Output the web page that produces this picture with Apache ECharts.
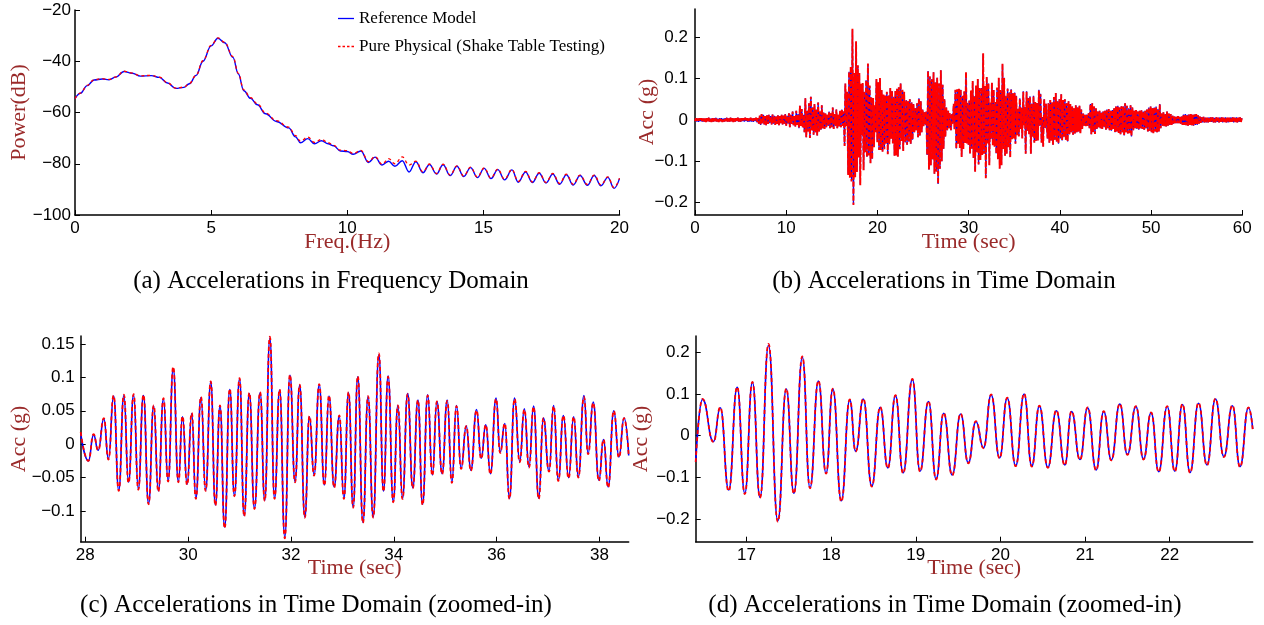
<!DOCTYPE html>
<html><head><meta charset="utf-8">
<script src="https://cdn.jsdelivr.net/npm/echarts@6/dist/echarts.min.js"></script>
<style>html,body{margin:0;padding:0;background:#fff}#c{width:1264px;height:625px}</style>
</head><body><div id="c"></div>
<script>
// ---------- (a) Frequency domain (Power, dB) ----------
const aFreq = [0,0.2,0.45,0.7,1.0,1.25,1.5,1.8,2.1,2.4,2.8,3.1,3.4,3.7,4.0,4.2,4.45,4.7,5.0,5.25,5.5,5.8,6.0,6.2,6.45,6.7,7.0,7.4,7.85,8.1,8.28,8.55,8.8,9.05,9.3,9.5,9.75,10.0,10.22,10.5,10.78,11.02,11.28,11.52,11.75,12.02,12.27,12.52,12.78,13.02,13.28,13.52,13.78,14.03,14.28,14.53,14.78,15.03,15.28,15.53,15.78,16.05,16.28,16.55,16.8,17.05,17.3,17.55,17.8,18.05,18.3,18.55,18.82,19.07,19.32,19.57,19.8,20.0];
const aRef = [-54.6,-52.5,-49.5,-47.3,-46.9,-47.2,-46.2,-44.0,-44.7,-45.8,-45.6,-46.3,-48.5,-50.6,-50.2,-48.8,-45.5,-40.0,-34.0,-31.0,-32.8,-38.5,-45.0,-51.5,-54.5,-57.0,-60.5,-63.5,-66.0,-69.5,-71.8,-70.2,-72.2,-71.0,-72.2,-73.0,-75.0,-75.2,-76.3,-75.0,-79.5,-77.4,-80.5,-79.0,-81.0,-78.8,-83.2,-79.2,-83.5,-80.3,-84.0,-80.4,-84.6,-81.0,-85.0,-81.5,-85.4,-81.8,-85.8,-82.3,-86.3,-82.4,-87.2,-83.2,-87.3,-83.7,-87.5,-84.0,-88.0,-84.3,-88.3,-84.6,-88.4,-84.6,-88.6,-85.3,-89.6,-85.8];
const aPhys = [-54.6,-52.4,-49.4,-47.2,-46.8,-47.1,-46.1,-43.9,-44.6,-45.7,-45.5,-46.2,-48.4,-50.5,-50.1,-48.7,-45.4,-39.8,-33.8,-30.9,-32.6,-38.2,-44.7,-51.2,-54.2,-56.6,-60.2,-63.2,-65.7,-69.0,-71.2,-69.6,-71.7,-70.5,-71.8,-72.8,-74.7,-74.9,-76.0,-74.8,-79.2,-77.2,-80.2,-78.0,-80.0,-77.3,-80.5,-79.0,-83.2,-80.1,-83.8,-80.2,-84.4,-80.8,-84.8,-81.3,-85.2,-81.6,-85.6,-82.1,-86.0,-82.2,-86.9,-83.0,-87.1,-83.5,-87.3,-83.8,-87.7,-84.1,-88.0,-84.4,-88.1,-84.4,-88.3,-85.1,-89.3,-85.6];

// ---------- (c) zoomed-in 27.9-38.6 s (peaks / troughs, g) ----------
const cTime = [27.91,28.06,28.16,28.25,28.36,28.45,28.55,28.65,28.75,28.84,28.94,29.03,29.13,29.23,29.33,29.42,29.52,29.61,29.71,29.81,29.89,29.98,30.07,30.15,30.25,30.34,30.44,30.53,30.62,30.71,30.81,30.90,31.00,31.09,31.19,31.29,31.40,31.49,31.59,31.68,31.78,31.88,31.98,32.08,32.17,32.27,32.36,32.45,32.55,32.65,32.74,32.84,32.94,33.03,33.12,33.21,33.30,33.40,33.50,33.60,33.71,33.80,33.89,33.99,34.08,34.17,34.27,34.37,34.47,34.56,34.66,34.75,34.84,34.94,35.04,35.13,35.22,35.31,35.41,35.50,35.61,35.70,35.79,35.88,35.99,36.07,36.16,36.25,36.35,36.45,36.54,36.63,36.72,36.82,36.91,37.02,37.11,37.20,37.30,37.40,37.50,37.59,37.70,37.78,37.88,37.99,38.08,38.17,38.28,38.38,38.48,38.57];
const cRef = [0.016,-0.025,0.014,-0.009,0.038,-0.022,0.072,-0.069,0.073,-0.057,
0.074,-0.067,0.073,-0.089,0.057,-0.070,0.068,-0.055,0.113,-0.056,
0.041,-0.060,0.046,-0.081,0.070,-0.069,0.093,-0.091,0.057,-0.124,
0.082,-0.077,0.098,-0.107,0.076,-0.096,0.077,-0.084,0.159,-0.081,
0.081,-0.139,0.103,-0.056,0.088,-0.109,0.041,-0.046,0.089,-0.061,
0.072,-0.064,0.042,-0.081,0.077,-0.094,0.101,-0.117,0.071,-0.109,
0.134,-0.070,0.102,-0.086,0.058,-0.081,0.076,-0.065,0.066,-0.090,
0.074,-0.046,0.064,-0.044,0.066,-0.057,0.058,-0.036,0.027,-0.039,
0.052,-0.021,0.029,-0.044,0.069,-0.012,0.031,-0.081,0.069,-0.026,
0.053,-0.034,0.057,-0.081,0.039,-0.040,0.058,-0.054,0.043,-0.050,
0.041,-0.049,0.073,-0.014,0.063,-0.054,0.007,-0.064,0.050,-0.019,
0.039,-0.017];
const cPhys = [0.018,-0.025,0.015,-0.009,0.039,-0.023,0.073,-0.070,0.074,-0.058,
0.075,-0.068,0.074,-0.090,0.058,-0.071,0.069,-0.056,0.116,-0.057,
0.042,-0.061,0.047,-0.082,0.071,-0.070,0.094,-0.092,0.058,-0.126,
0.083,-0.078,0.099,-0.108,0.077,-0.097,0.078,-0.085,0.161,-0.082,
0.082,-0.141,0.104,-0.057,0.089,-0.110,0.042,-0.047,0.090,-0.062,
0.073,-0.065,0.043,-0.082,0.078,-0.095,0.102,-0.118,0.072,-0.110,
0.136,-0.071,0.101,-0.087,0.058,-0.082,0.075,-0.066,0.066,-0.091,
0.073,-0.047,0.064,-0.045,0.065,-0.058,0.057,-0.037,0.027,-0.040,
0.051,-0.022,0.029,-0.045,0.068,-0.013,0.031,-0.082,0.068,-0.027,
0.052,-0.035,0.056,-0.082,0.039,-0.041,0.057,-0.055,0.043,-0.051,
0.041,-0.050,0.071,-0.015,0.062,-0.055,0.007,-0.065,0.050,-0.020,
0.039,-0.017];

// ---------- (d) zoomed-in 16.4-23.0 s (peaks / troughs, g) ----------
const dTime = [16.40,16.48,16.61,16.69,16.79,16.89,16.98,17.07,17.16,17.26,
17.37,17.47,17.56,17.66,17.75,17.85,17.94,18.02,18.12,18.22,
18.29,18.38,18.48,18.58,18.67,18.76,18.85,18.96,19.05,19.15,
19.24,19.33,19.43,19.53,19.62,19.71,19.80,19.89,19.99,20.08,
20.18,20.28,20.37,20.46,20.56,20.66,20.76,20.84,20.94,21.03,
21.13,21.22,21.31,21.41,21.50,21.60,21.69,21.78,21.87,21.97,
22.06,22.15,22.24,22.34,22.44,22.54,22.64,22.74,22.83,22.93,22.98];
const dRef = [-0.062,0.087,-0.014,0.067,-0.130,0.116,-0.138,0.128,-0.148,0.217,
-0.204,0.112,-0.138,0.188,-0.125,0.131,-0.090,0.112,-0.156,0.086,
-0.037,0.088,-0.121,0.068,-0.077,0.096,-0.089,0.135,-0.085,0.082,
-0.104,0.054,-0.094,0.052,-0.065,0.034,-0.029,0.098,-0.053,0.090,
-0.072,0.100,-0.073,0.071,-0.076,0.060,-0.070,0.058,-0.057,0.067,
-0.082,0.058,-0.058,0.076,-0.045,0.070,-0.056,0.055,-0.086,0.070,
-0.085,0.075,-0.088,0.078,-0.070,0.088,-0.050,0.072,-0.074,0.067,0.016];
const dPhys = [-0.063,0.088,-0.015,0.068,-0.133,0.117,-0.140,0.129,-0.149,0.220,
-0.206,0.113,-0.139,0.190,-0.126,0.132,-0.091,0.113,-0.158,0.087,
-0.038,0.089,-0.122,0.069,-0.078,0.097,-0.090,0.136,-0.086,0.083,
-0.105,0.055,-0.095,0.053,-0.066,0.035,-0.030,0.099,-0.054,0.091,
-0.073,0.101,-0.074,0.072,-0.077,0.061,-0.071,0.059,-0.058,0.068,
-0.083,0.059,-0.059,0.077,-0.046,0.071,-0.057,0.056,-0.087,0.071,
-0.086,0.076,-0.089,0.079,-0.071,0.089,-0.051,0.073,-0.075,0.068,0.016];

// ---------- (b) full record: remaining stretches sampled every 0.1 s (milli-g) ----------
const SAMPLE_STEP = 0.1;
const bStartA = 0.0;   // 0.0 .. 16.3 s
const bQuietA_mg = [
-3,4,-4,3,-5,4,-3,4,-4,3,  -4,3,-5,4,-3,5,-4,3,-5,4,
-4,4,-3,5,-4,3,-5,4,-3,4,  -5,3,-4,4,-3,5,-4,3,-4,5,
-3,4,-5,3,-4,4,-3,5,-4,3,  -5,4,-3,4,-4,5,-3,4,-5,3,
-4,5,-4,3,-5,4,-3,5,-6,4,  -9,10,-12,14,-8,12,-11,9,-13,11,
-10,12,-8,9,-11,13,-9,10,-12,8,  -10,11,-13,9,-8,12,-11,10,-9,14,
-14,10,-9,16,-18,12,-10,20,-13,9,  -16,22,-12,14,-20,34,-15,26,-18,12,
-30,52,-42,22,-28,40,-44,56,-25,30,  -36,38,-30,25,-38,42,-28,20,-24,35,
-20,18,-22,15,-18,12,-15,20,-20,16,  -18,30,-22,14,-15,25,-20,12,-16,22,
-18,25,-15,20];
const bStartB = 23.05; // 23.05 .. 27.85 s
const bMidB_mg = [
-55,48,-60,45,-52,50,-58,42,-48,38,
-30,28,-25,40,-42,52,-38,45,-30,25,
-15,18,-12,20,-85,118,-120,105,-110,98,
-95,115,-130,90,-125,102,-155,88,-118,120,
-100,85,-70,50,-40,30,-25,22,-20];
const bStartC = 38.65; // 38.65 .. 59.95 s
const bTailC_mg = [
-45,40,-55,48,
-50,42,-60,55,-48,65,-52,45,-58,50,
-45,62,-50,48,-42,50,-48,40,-52,45,
-35,38,-30,32,-36,28,-33,35,-30,30,
-28,34,-32,25,-22,15,-14,12,-15,13,
-14,16,-20,38,-35,40,-30,32,-34,28,
-22,20,-18,22,-20,18,-22,20,-18,22,
-24,25,-20,26,-25,22,-26,24,-22,28,
-30,32,-28,34,-32,30,-35,33,-30,32,
-38,40,-30,34,-33,28,-32,35,-40,30,
-25,22,-20,24,-22,20,-24,22,-20,23,
-22,20,-24,22,-20,25,-28,30,-26,32,
-30,28,-32,30,-28,32,-30,26,-28,38,
-20,15,-14,18,-15,14,-16,20,-14,15,
-12,14,-12,10,-9,8,-8,7,-8,9,
-8,7,-9,8,-12,13,-12,14,-13,12,
-14,13,-12,14,-13,12,-14,13,-12,14,
-12,11,-9,8,-7,6,-6,7,-6,5,
-6,5,-6,6,-5,6,-5,6,-6,5,
-6,6,-5,5,-6,6,-5,6,-6,5,
-5,6,-6,5,-6,5,-5,6,-5,6,
-6,5,-5,6,-6,5,-5,6,-5,4];

// ---------- text ----------
const legendNames = ['Reference Model','Pure Physical (Shake Table Testing)'];
const captions = ['(a) Accelerations in Frequency Domain','(b) Accelerations in Time Domain',
  '(c) Accelerations in Time Domain (zoomed-in)','(d) Accelerations in Time Domain (zoomed-in)'];
const yTicksB = [-0.2,-0.1,0,0.1,0.2];
const yTicksC = [-0.1,-0.05,0,0.05,0.1,0.15];
const xTicksC = [28,30,32,34,36,38];
const yTicksD = [-0.2,-0.1,0,0.1,0.2];
const xTicksD = [17,18,19,20,21,22];

// ---------- build ----------
const BLUE = '#0000FF', RED = '#FF0000';
const pairs = (xs, ys) => xs.map((x, i) => [x, ys[i]]);
const seg = (start, mg) => mg.map((v, i) => [+(start + i * SAMPLE_STEP).toFixed(2), v / 1000]);
const bRefPts = [].concat(seg(bStartA, bQuietA_mg), pairs(dTime, dRef), seg(bStartB, bMidB_mg), pairs(cTime, cRef), seg(bStartC, bTailC_mg));
const bPhysPts = [].concat(seg(bStartA, bQuietA_mg), pairs(dTime, dPhys), seg(bStartB, bMidB_mg), pairs(cTime, cPhys), seg(bStartC, bTailC_mg));

const NAME_COLOR = '#9A2A2A';
const fmt = v => (v < 0 ? '\u2212' + String(-v) : String(v));
const labelFont = {fontFamily: 'Liberation Sans', fontSize: 17, color: '#000'};
const nameFont = {fontFamily: 'Liberation Serif', fontSize: 22, color: NAME_COLOR};

function axis(gi, o) {
  const a = {
    type: 'value', gridIndex: gi, min: o.min, max: o.max, scale: true,
    axisLine: {show: true, onZero: false, lineStyle: {color: '#000', width: 1.5}},
    axisTick: {show: true, inside: true, length: 5, lineStyle: {color: '#000', width: 1}},
    axisLabel: Object.assign({margin: o.margin, formatter: fmt, showMinLabel: true, showMaxLabel: true}, labelFont),
    splitLine: {show: false},
    name: o.name, nameLocation: 'middle', nameGap: o.gap, nameMoveOverlap: false, nameTextStyle: nameFont
  };
  if (o.interval) a.interval = o.interval;
  if (o.ticks) { a.axisLabel.customValues = o.ticks; a.axisTick.customValues = o.ticks; }
  return a;
}

const grids = [
  {left: 75, top: 10, width: 544.5, height: 205},
  {left: 695, top: 9, width: 547.3, height: 206},
  {left: 80.7, top: 336, width: 548, height: 205.7},
  {left: 695.7, top: 336, width: 557, height: 205.7}
].map(g => Object.assign({outerBoundsMode: 'none', containLabel: false}, g));

const xAxes = [
  axis(0, {min: 0, max: 20, interval: 5, margin: 5, name: 'Freq.(Hz)', gap: 16}),
  axis(1, {min: 0, max: 60, interval: 10, margin: 5, name: 'Time (sec)', gap: 16}),
  axis(2, {min: 27.91, max: 38.57, ticks: xTicksC, margin: 5, name: 'Time (sec)', gap: 16}),
  axis(3, {min: 16.4, max: 22.98, ticks: xTicksD, margin: 5, name: 'Time (sec)', gap: 16})
];
const yAxes = [
  axis(0, {min: -100, max: -20, interval: 20, margin: 4, name: 'Power(dB)', gap: 45}),
  axis(1, {min: -0.23, max: 0.268, ticks: yTicksB, margin: 7, name: 'Acc (g)', gap: 37}),
  axis(2, {min: -0.146, max: 0.162, ticks: yTicksC, margin: 6, name: 'Acc (g)', gap: 50}),
  axis(3, {min: -0.254, max: 0.239, ticks: yTicksD, margin: 6, name: 'Acc (g)', gap: 43})
];

function line(gi, name, data, isRef, o) {
  const col = isRef ? BLUE : RED;
  return {
    type: 'line', name: name, xAxisIndex: gi, yAxisIndex: gi, data: data,
    showSymbol: false, symbol: 'none', smooth: o.smooth || false, smoothMonotone: 'x',
    animation: false, silent: true, z: isRef ? 2 : 3,
    itemStyle: {color: col},
    lineStyle: isRef ? {color: col, width: o.w, type: 'solid'}
                     : {color: col, width: o.w2, type: o.dash}
  };
}

const series = [
  line(0, legendNames[0], pairs(aFreq, aRef), true, {w: 1.4, smooth: 0.4}),
  line(0, legendNames[1], pairs(aFreq, aPhys), false, {w2: 1.3, dash: [3, 3], smooth: 0.4}),
  line(1, legendNames[0], bRefPts, true, {w: 1.3}),
  line(1, legendNames[1], bPhysPts, false, {w2: 1.9, dash: [5, 2]}),
  line(2, legendNames[0], pairs(cTime, cRef), true, {w: 1.6, smooth: 0.5}),
  line(2, legendNames[1], pairs(cTime, cPhys), false, {w2: 1.8, dash: [4, 3], smooth: 0.5}),
  line(3, legendNames[0], pairs(dTime, dRef), true, {w: 1.6, smooth: 0.5}),
  line(3, legendNames[1], pairs(dTime, dPhys), false, {w2: 1.8, dash: [4, 3], smooth: 0.5})
];

const capPos = [[331, 281], [944, 281], [316, 605], [945, 605]];
const graphic = captions.map((t, i) => ({
  type: 'text', x: capPos[i][0], y: capPos[i][1], silent: true,
  style: {text: t, font: '25px "Liberation Serif"', fill: '#000', align: 'center', verticalAlign: 'middle'}
}));

const chart = echarts.init(document.getElementById('c'), null, {renderer: 'canvas'});
chart.setOption({
  backgroundColor: '#fff',
  animation: false,
  grid: grids, xAxis: xAxes, yAxis: yAxes, series: series,
  legend: {
    data: [
      {name: legendNames[0], icon: 'path://M0,0H16V1.3H0Z'},
      {name: legendNames[1], icon: 'path://M0,0H2.5V1.3H0Z M4.5,0H7V1.3H4.5Z M9,0H11.5V1.3H9Z M13.5,0H16V1.3H13.5Z'}
    ],
    orient: 'vertical', left: 333, top: 5,
    itemWidth: 16, itemHeight: 1.3, itemGap: 11, selectedMode: false,
    textStyle: {fontFamily: 'Liberation Serif', fontSize: 17, color: '#000'}
  },
  graphic: graphic
});
</script></body></html>
